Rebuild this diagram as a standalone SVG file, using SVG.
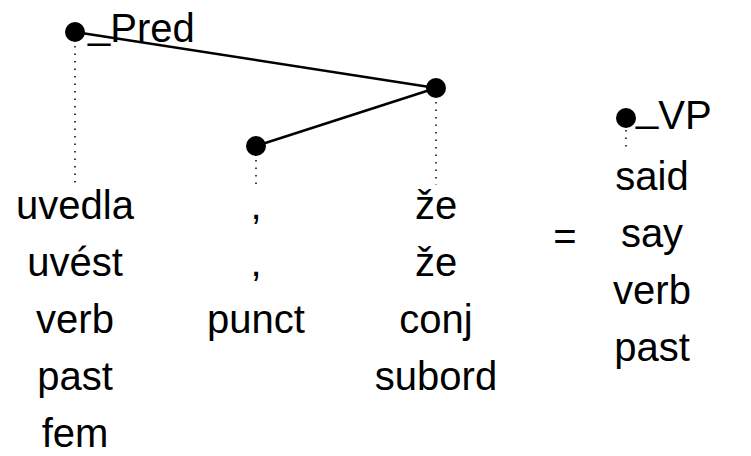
<svg xmlns="http://www.w3.org/2000/svg" width="751" height="456" viewBox="0 0 751 456">
<style>
text{font-family:"Liberation Sans",Arial,sans-serif;font-size:40px;fill:#000;text-anchor:middle}
.lbl{text-anchor:start}
.dot{fill:#000}
.edge{stroke:#000;stroke-width:2.5;fill:none}
.dl{stroke:#000;stroke-width:1.5;stroke-dasharray:1.5 6;fill:none}
</style>
<rect width="751" height="456" fill="#fff"/>
<g id="connectors">
<line class="edge" x1="75" y1="32" x2="436" y2="88"/>
<line class="edge" x1="256" y1="146" x2="436" y2="88"/>
<line class="dl" x1="75" y1="46" x2="75" y2="185"/>
<line class="dl" x1="256" y1="160" x2="256" y2="185"/>
<line class="dl" x1="436" y1="102" x2="436" y2="185"/>
<line class="dl" x1="626" y1="130" x2="626" y2="152"/>
</g>
<g id="node-uvedla">
<circle class="dot" cx="75" cy="32" r="10"/>
<text class="lbl" x="88" y="42"><tspan dy="-4">_</tspan><tspan dy="4">Pred</tspan></text>
<text x="75" y="219">uvedla</text>
<text x="75" y="276">uvést</text>
<text x="75" y="333">verb</text>
<text x="75" y="390">past</text>
<text x="75" y="447">fem</text>
</g>
<g id="node-comma">
<circle class="dot" cx="256" cy="146" r="10"/>
<text x="256" y="219">,</text>
<text x="256" y="276">,</text>
<text x="256" y="333">punct</text>
</g>
<g id="node-ze">
<circle class="dot" cx="436" cy="88" r="10"/>
<text x="436" y="219">že</text>
<text x="436" y="276">že</text>
<text x="436" y="333">conj</text>
<text x="436" y="390">subord</text>
</g>
<g id="equals">
<text x="565" y="250">=</text>
</g>
<g id="node-said">
<circle class="dot" cx="626" cy="118" r="10"/>
<text class="lbl" x="636" y="129"><tspan dy="-8">_</tspan><tspan dy="8">VP</tspan></text>
<text x="652" y="190">said</text>
<text x="652" y="247">say</text>
<text x="652" y="304">verb</text>
<text x="652" y="361">past</text>
</g>
</svg>
